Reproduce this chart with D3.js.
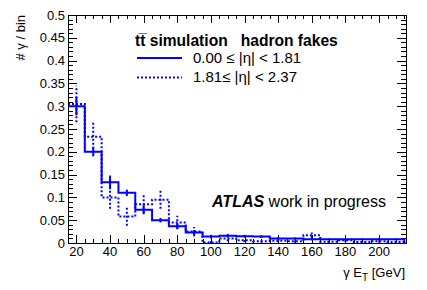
<!DOCTYPE html>
<html>
<head>
<meta charset="utf-8">
<script src="https://cdn.jsdelivr.net/npm/d3@7"></script>
<style>
  body { margin: 0; background: #fff; }
  text { font-family: "Liberation Sans", Arial, sans-serif; fill: #000; }
</style>
</head>
<body>
<div id="chart"></div>
<script>
// bin low edges (GeV), width 10
const binEdges = [15,25,35,45,55,65,75,85,95,105,115,125,135,145,155,165,175,185,195,205,215];
const centralVals = [0.300,0.200,0.133,0.110,0.073,0.050,0.037,0.023,0.014,0.016,0.015,0.014,0.010,0.010,0.008,0.008,0.008,0.008,0.008,0.008];
const centralErrs = [0.020,0.010,0.015,0.007,0.010,0.005,0.006,0.005,0.004,0.004,0.003,0.003,0.003,0.002,0.002,0.002,0.002,0.002,0.002,0.002];
const forwardVals = [0.305,0.233,0.100,0.058,0.085,0.095,0.045,0.025,0.001,0.010,0.006,0.004,0.005,0.004,0.017,0.003,0.006,0.002,0.004,0.002];
const forwardErrs = [0.040,0.035,0.025,0.020,0.020,0.020,0.015,0.010,0.003,0.006,0.004,0.003,0.003,0.003,0.006,0.003,0.004,0.002,0.003,0.002];
const xTicks = [20,40,60,80,100,120,140,160,180,200];
const yTicks = [0,0.05,0.1,0.15,0.2,0.25,0.3,0.35,0.4,0.45,0.5];

const W = 427, H = 290;
const margin = {left: 68, top: 15, right: 21, bottom: 47};
const iw = W - margin.left - margin.right, ih = H - margin.top - margin.bottom;

const svg = d3.select('#chart').append('svg').attr('width', W).attr('height', H);
const g = svg.append('g').attr('transform', `translate(${margin.left},${margin.top})`);

const x = d3.scaleLinear().domain([15, 216]).range([0, iw]);
const y = d3.scaleLinear().domain([0, 0.5]).range([ih, 0]);

// ticks, pointing inward on all four sides
const ticksG = g.append('g').attr('stroke', '#000').attr('stroke-width', 1);
d3.range(15, 216.1, 5).forEach(v => {
  const major = v % 20 === 0;
  const len = major ? 8 : 4;
  const xp = Math.round(x(v)) + 0.5;
  ticksG.append('line').attr('x1', xp).attr('x2', xp).attr('y1', ih).attr('y2', ih - len);
  ticksG.append('line').attr('x1', xp).attr('x2', xp).attr('y1', 0).attr('y2', len);
});
d3.range(0, 51).forEach(i => {
  const v = i / 100;
  const major = i % 5 === 0;
  const len = major ? 9 : 5;
  const yp = Math.round(y(v)) + 0.5;
  ticksG.append('line').attr('x1', 0).attr('x2', len).attr('y1', yp).attr('y2', yp);
  ticksG.append('line').attr('x1', iw).attr('x2', iw - len).attr('y1', yp).attr('y2', yp);
});

g.append('g').selectAll('text').data(xTicks).enter().append('text')
  .attr('x', d => x(d)).attr('y', ih + 12.5)
  .attr('text-anchor', 'middle').style('font-size', '13px')
  .text(d => d);
g.append('g').selectAll('text').data(yTicks).enter().append('text')
  .attr('x', -3).attr('y', d => y(d) + 4.5)
  .attr('text-anchor', 'end').style('font-size', '13px')
  .text(d => d3.format('~g')(d));

// histograms
function stepPath(vals) {
  const pts = [];
  vals.forEach((v, i) => {
    pts.push([x(binEdges[i]), y(v)]);
    pts.push([x(binEdges[i + 1]), y(v)]);
  });
  pts.push([x(binEdges[vals.length]), y(0)]);
  return d3.line()(pts);
}
function drawHist(vals, errs, dash) {
  const hg = g.append('g');
  hg.append('path').attr('d', stepPath(vals))
    .attr('fill', 'none').attr('stroke', '#0000ff').attr('stroke-width', 2)
    .attr('stroke-dasharray', dash);
  hg.selectAll('line').data(vals).enter().append('line')
    .attr('x1', (d, i) => x((binEdges[i] + binEdges[i + 1]) / 2))
    .attr('x2', (d, i) => x((binEdges[i] + binEdges[i + 1]) / 2))
    .attr('y1', (d, i) => y(Math.max(0, d - errs[i])))
    .attr('y2', (d, i) => y(d + errs[i]))
    .attr('stroke', '#0000ff').attr('stroke-width', 2)
    .attr('stroke-dasharray', dash);
}
drawHist(forwardVals, forwardErrs, '2,2');
drawHist(centralVals, centralErrs, null);

// frame
g.append('rect').attr('x', 0.5).attr('y', 0.5).attr('width', iw).attr('height', ih)
  .attr('fill', 'none').attr('stroke', '#000');

// axis titles
svg.append('text').attr('transform', 'translate(24.5,15) rotate(-90)')
  .attr('text-anchor', 'end').style('font-size', '13px').text('# γ / bin');
const xl = svg.append('text').attr('x', 405).attr('y', 277)
  .attr('text-anchor', 'end').style('font-size', '13px');
xl.append('tspan').text('γ E');
xl.append('tspan').attr('dy', 4).style('font-size', '10px').text('T');
xl.append('tspan').attr('dy', -4).text(' [GeV]');

// legend
svg.append('text').attr('x', 135).attr('y', 46).style('font-size', '15.6px').style('font-weight', 'bold')
  .attr('xml:space', 'preserve').text('tt\u0305 simulation   hadron fakes');
const legend = [
  {label: '0.00 \u2264 |\u03b7| < 1.81', dash: null},
  {label: '1.81\u2264 |\u03b7| < 2.37', dash: '2,2'}
];
legend.forEach((d, i) => {
  const yy = 58 + i * 19.5;
  svg.append('line').attr('x1', 137).attr('x2', 182).attr('y1', yy).attr('y2', yy)
    .attr('stroke', '#0000ff').attr('stroke-width', 2).attr('stroke-dasharray', d.dash);
  svg.append('text').attr('x', 193).attr('y', yy + 4.5).style('font-size', '15px').text(d.label);
});

// label
const at = svg.append('text').attr('x', 212).attr('y', 207).style('font-size', '16px');
at.append('tspan').style('font-weight', 'bold').style('font-style', 'italic').text('ATLAS');
at.append('tspan').text(' work in progress');
</script>
</body>
</html>
